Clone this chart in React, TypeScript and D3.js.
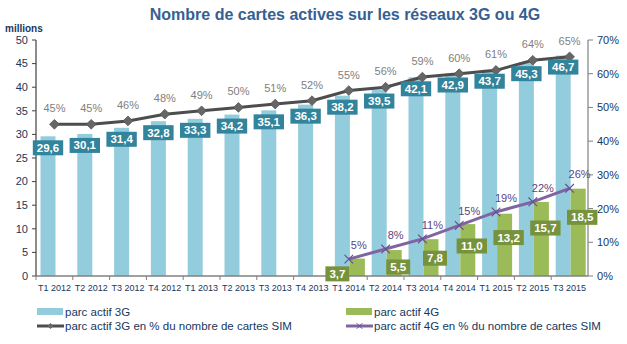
import React from "react";
import * as d3 from "d3";

const categories = [
  "T1 2012", "T2 2012", "T3 2012", "T4 2012",
  "T1 2013", "T2 2013", "T3 2013", "T4 2013",
  "T1 2014", "T2 2014", "T3 2014", "T4 2014",
  "T1 2015", "T2 2015", "T3 2015",
];
const parc3G: number[] = [29.6, 30.1, 31.4, 32.8, 33.3, 34.2, 35.1, 36.3, 38.2, 39.5, 42.1, 42.9, 43.7, 45.3, 46.7];
const parc4G: (number | null)[] = [null, null, null, null, null, null, null, null, 3.7, 5.5, 7.8, 11.0, 13.2, 15.7, 18.5];
const pct3G: number[] = [45, 45, 46, 48, 49, 50, 51, 52, 55, 56, 59, 60, 61, 64, 65];
const pct4G: (number | null)[] = [null, null, null, null, null, null, null, null, 5, 8, 11, 15, 19, 22, 26];
const leftTicks = [0, 5, 10, 15, 20, 25, 30, 35, 40, 45, 50];
const rightTicks = [0, 10, 20, 30, 40, 50, 60, 70];

const W = 627, H = 344;
const FONT = "'Liberation Sans', Arial, sans-serif";
const C3G = "#93cddd";
const C4G = "#9bbb59";
const BOX3G = "#31849b";
const BOX4G = "#76923c";
const LINE3G = "#4d4d4d";
const LINE4G = "#8064a2";
const NAVY = "#17375e";

const fmt = (v: number) => v.toFixed(1).replace(".", ",");
const textW = (s: string, fs: number) =>
  s.split("").reduce((a, ch) => a + (ch === "," ? 0.278 : 0.556), 0) * fs;

export default function App() {
  const x = d3.scaleBand<string>().domain(categories).range([36, 588]).padding(0);
  const sub = d3.scaleBand<string>().domain(["3G", "4G"]).range([4.5, 34.5]).padding(0);
  const y = d3.scaleLinear().domain([0, 50]).range([276, 40]);
  const yR = d3.scaleLinear().domain([0, 70]).range([276, 40]);
  const bw = sub.bandwidth();
  const cx = (c: string) => (x(c) as number) + x.bandwidth() / 2;

  const line3 = d3.line<number>()
    .x((_, i) => cx(categories[i]))
    .y((d) => yR(d));
  const pts4 = categories
    .map((c, i) => ({ c, v: pct4G[i] }))
    .filter((d) => d.v !== null) as { c: string; v: number }[];
  const line4 = d3.line<{ c: string; v: number }>()
    .x((d) => cx(d.c))
    .y((d) => yR(d.v));

  const diamond = d3.symbol().type(d3.symbolDiamond2).size(60)();
  const cross = d3.symbol().type(d3.symbolX).size(50)();

  const lfs = 11.5;

  return (
    <svg width={W} height={H} style={{ position: "absolute", left: 0, top: 0, background: "#fff" }} fontFamily={FONT}>
      <rect width={W} height={H} fill="#fff" />
      <text x={345} y={20} textAnchor="middle" fontSize={16} fontWeight="bold" fill="#366092">
        Nombre de cartes actives sur les réseaux 3G ou 4G
      </text>
      <text x={5} y={32} fontSize={10} fontWeight="bold" fill={NAVY}>millions</text>

      {/* bars */}
      {categories.map((c, i) => (
        <rect key={"b3" + c} x={(x(c) as number) + (sub("3G") as number)} y={y(parc3G[i])}
          width={bw} height={276 - y(parc3G[i])} fill={C3G} />
      ))}
      {categories.map((c, i) => parc4G[i] === null ? null : (
        <rect key={"b4" + c} x={(x(c) as number) + (sub("4G") as number)} y={y(parc4G[i] as number)}
          width={bw} height={276 - y(parc4G[i] as number)} fill={C4G} />
      ))}

      {/* left axis */}
      <line x1={36} x2={36} y1={40} y2={276} stroke="#404040" strokeWidth={1.2} />
      {leftTicks.map((t) => (
        <g key={"lt" + t}>
          <line x1={32} x2={36} y1={y(t)} y2={y(t)} stroke="#404040" strokeWidth={1} />
          <text x={28} y={y(t) + 3.8} textAnchor="end" fontSize={11} fill={NAVY}>{t}</text>
        </g>
      ))}
      {/* right axis */}
      <line x1={588} x2={588} y1={40} y2={276} stroke="#808080" strokeWidth={1.2} />
      {rightTicks.map((t) => (
        <g key={"rt" + t}>
          <line x1={588} x2={593} y1={yR(t)} y2={yR(t)} stroke="#808080" strokeWidth={1} />
          <text x={597} y={yR(t) + 4} fontSize={11} fill={NAVY}>{t}%</text>
        </g>
      ))}
      {/* x axis */}
      <line x1={36} x2={588} y1={276} y2={276} stroke="#808080" strokeWidth={1.5} />
      {categories.map((c) => (
        <line key={"xt" + c} x1={x(c) as number} x2={x(c) as number} y1={276} y2={280} stroke="#808080" />
      ))}
      {categories.map((c) => (
        <text key={"xl" + c} x={cx(c)} y={291} textAnchor="middle" fontSize={9.8} fill={NAVY}
          textLength={33} lengthAdjust="spacingAndGlyphs">{c}</text>
      ))}

      {/* 3G % line */}
      <path d={line3(pct3G) as string} fill="none" stroke={LINE3G} strokeWidth={3} />
      {pct3G.map((v, i) => (
        <g key={"p3" + i}>
          <path d={diamond as string} transform={`translate(${cx(categories[i])},${yR(v)})`} fill="#666" stroke="#555" strokeWidth={0.8} />
          <text x={cx(categories[i])} y={yR(v) - 12} textAnchor="middle" fontSize={11} fill="#808080">{v}%</text>
        </g>
      ))}

      {/* 4G % line */}
      <path d={line4(pts4) as string} fill="none" stroke={LINE4G} strokeWidth={3} />
      {pts4.map((d) => (
        <g key={"p4" + d.c}>
          <path d={cross as string} transform={`translate(${cx(d.c)},${yR(d.v)})`} fill="none" stroke="#6a4f94" strokeWidth={1.2} />
          <text x={cx(d.c) + 10} y={yR(d.v) - 10} textAnchor="middle" fontSize={11} fill="#5a4682">{d.v}%</text>
        </g>
      ))}

      {/* 3G value labels */}
      {categories.map((c, i) => {
        const s = fmt(parc3G[i]);
        const w = textW(s, lfs) + 8;
        const bx = (x(c) as number) + (sub("3G") as number) + bw / 2;
        const by = y(parc3G[i]) + 11.5;
        return (
          <g key={"l3" + c}>
            <rect x={bx - w / 2} y={by - 7.5} width={w} height={15} fill={BOX3G} />
            <text x={bx} y={by + 4} textAnchor="middle" fontSize={lfs} fontWeight="bold" fill="#fff">{s}</text>
          </g>
        );
      })}
      {/* 4G value labels */}
      {categories.map((c, i) => {
        const v = parc4G[i];
        if (v === null) return null;
        const s = fmt(v);
        const w = textW(s, lfs) + 8;
        const first = i === 8;
        const bx = (x(c) as number) + (sub("4G") as number) + bw / 2 + (first ? -20 : 4);
        const by = y(v) + 12 + v * 0.9;
        return (
          <g key={"l4" + c}>
            <rect x={bx - w / 2} y={by - 7.5} width={w} height={15} fill={BOX4G} />
            <text x={bx} y={by + 4} textAnchor="middle" fontSize={lfs} fontWeight="bold" fill="#fff">{s}</text>
          </g>
        );
      })}

      {/* legend */}
      <rect x={37} y={308} width={26} height={7} fill={C3G} />
      <text x={65} y={315.5} fontSize={11.5} fill={NAVY}>parc actif 3G</text>
      <rect x={346} y={308} width={26} height={7} fill={C4G} />
      <text x={374} y={315.5} fontSize={11.5} fill={NAVY}>parc actif 4G</text>
      <line x1={37} x2={64} y1={326} y2={326} stroke={LINE3G} strokeWidth={3} />
      <path d={d3.symbol().type(d3.symbolDiamond2).size(22)() as string} transform="translate(50.5,326)" fill="#666" />
      <text x={65} y={330} fontSize={11.5} fill={NAVY}>parc actif 3G en % du nombre de cartes SIM</text>
      <line x1={346} x2={373} y1={326} y2={326} stroke={LINE4G} strokeWidth={3} />
      <path d={d3.symbol().type(d3.symbolX).size(22)() as string} transform="translate(359.5,326)" fill="none" stroke="#6a4f94" strokeWidth={1} />
      <text x={374} y={330} fontSize={11.5} fill={NAVY}>parc actif 4G en % du nombre de cartes SIM</text>
    </svg>
  );
}
